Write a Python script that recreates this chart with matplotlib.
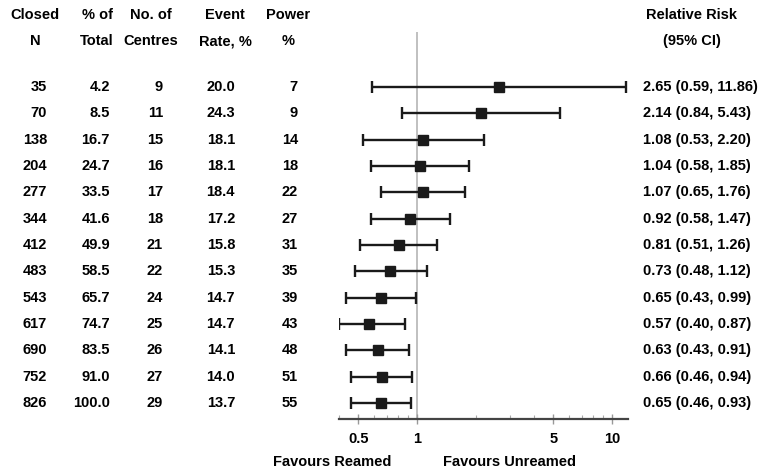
import matplotlib.pyplot as plt
import matplotlib.transforms as mtransforms
from matplotlib.ticker import FixedLocator, NullFormatter

plt.rcParams['font.family'] = ['Liberation Sans', 'DejaVu Sans']
plt.rcParams['font.weight'] = 'bold'

closed_n = [35, 70, 138, 204, 277, 344, 412, 483, 543, 617, 690, 752, 826]
pct_total = ["4.2", "8.5", "16.7", "24.7", "33.5", "41.6", "49.9", "58.5", "65.7", "74.7", "83.5", "91.0", "100.0"]
n_centres = [9, 11, 15, 16, 17, 18, 21, 22, 24, 25, 26, 27, 29]
event_rate = ["20.0", "24.3", "18.1", "18.1", "18.4", "17.2", "15.8", "15.3", "14.7", "14.7", "14.1", "14.0", "13.7"]
power = [7, 9, 14, 18, 22, 27, 31, 35, 39, 43, 48, 51, 55]
rr = [2.65, 2.14, 1.08, 1.04, 1.07, 0.92, 0.81, 0.73, 0.65, 0.57, 0.63, 0.66, 0.65]
ci_low = [0.59, 0.84, 0.53, 0.58, 0.65, 0.58, 0.51, 0.48, 0.43, 0.40, 0.43, 0.46, 0.46]
ci_high = [11.86, 5.43, 2.20, 1.85, 1.76, 1.47, 1.26, 1.12, 0.99, 0.87, 0.91, 0.94, 0.93]

W, H = 763, 475
fig = plt.figure(figsize=(W / 100, H / 100), dpi=100)

# forest axes placed in pixel space
x0, x1 = 339, 628
ytop, ybot = 32, 419
ax = fig.add_axes([x0 / W, 1 - ybot / H, (x1 - x0) / W, (ybot - ytop) / H])

row0, step = 87, 26.33
rows = list(range(len(rr)))
ax.set_ylim((ybot - row0) / step, (ytop - row0) / step)
ax.set_xscale('log')
ax.set_xlim(0.398, 12.1)

ax.axvline(1, color='#b5b5b5', lw=1.2, zorder=1)
err = [[r - l for r, l in zip(rr, ci_low)], [h - r for r, h in zip(rr, ci_high)]]
ax.errorbar(rr, rows, xerr=err, fmt='s', color='#1a1a1a', ecolor='#1a1a1a',
            ms=6.5, elinewidth=1.7, capsize=4, capthick=1.7, zorder=3)

for s in ['top', 'left', 'right']:
    ax.spines[s].set_visible(False)
ax.spines['bottom'].set_color('#444444')
ax.spines['bottom'].set_linewidth(1.6)
ax.set_yticks([])
ax.xaxis.set_major_locator(FixedLocator([0.5, 1, 5, 10]))
ax.xaxis.set_minor_locator(FixedLocator([0.4, 0.6, 0.7, 0.8, 0.9, 2, 3, 4, 6, 7, 8, 9]))
ax.xaxis.set_minor_formatter(NullFormatter())
ax.set_xticklabels(['0.5', '1', '5', '10'])
ax.tick_params(axis='x', which='major', direction='inout', length=7, width=1,
               color='#999999', labelsize=10.5, pad=6)
ax.tick_params(axis='x', which='minor', direction='in', length=3, width=0.8, color='#aaaaaa')

# table text: x in figure pixels, y in data rows
tr = mtransforms.blended_transform_factory(
    mtransforms.Affine2D().scale(1 / W, 1) + fig.transFigure, ax.transData)
fs = 10.5
cols = [(47, closed_n), (110, pct_total), (163, n_centres), (235, event_rate), (298, power)]
for i in rows:
    for cx, vals in cols:
        ax.text(cx, i, str(vals[i]), transform=tr, ha='right', va='center',
                fontsize=fs, fontweight='bold', clip_on=False)
    ax.text(643, i, f"{rr[i]:.2f} ({ci_low[i]:.2f}, {ci_high[i]:.2f})", transform=tr,
            ha='left', va='center', fontsize=fs, fontweight='bold', clip_on=False)

headers = [(35, "Closed", "N"), (97, "% of", "Total"), (151, "No. of", "Centres"),
           (225, "Event", "Rate, %"), (288, "Power", "%"), (692, "Relative Risk", "(95% CI)")]
for cx, h1, h2 in headers:
    fig.text(cx / W, 1 - 15 / H, h1, ha='center', va='center', fontsize=fs, fontweight='bold')
    fig.text(cx / W, 1 - 41 / H, h2, ha='center', va='center', fontsize=fs, fontweight='bold')

fig.text(332 / W, 1 - 462 / H, "Favours Reamed", ha='center', va='center', fontsize=fs, fontweight='bold')
fig.text(510 / W, 1 - 462 / H, "Favours Unreamed", ha='center', va='center', fontsize=fs, fontweight='bold')

fig.savefig('out.png', dpi=100)
